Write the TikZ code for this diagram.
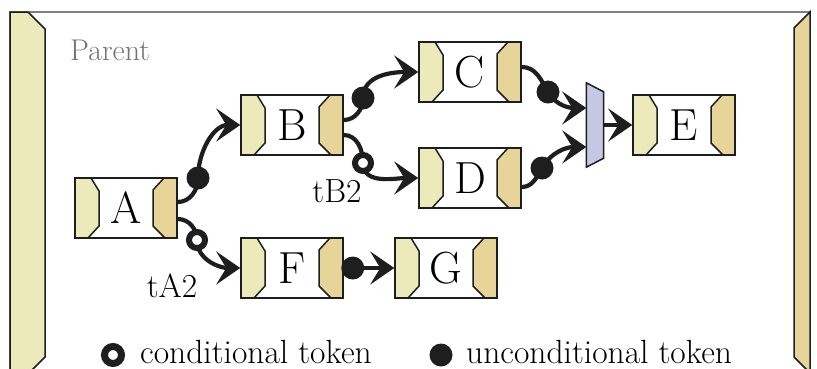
\documentclass[tikz,border=0pt]{standalone}
\usepackage{fontspec}
\usetikzlibrary{arrows.meta,calc}

\definecolor{portin}{RGB}{236,233,187}
\definecolor{portout}{RGB}{230,212,153}
\definecolor{mergefill}{RGB}{197,200,228}
\definecolor{ink}{RGB}{30,30,30}

\tikzset{
  panel/.style={draw=ink, line width=1.5pt},
  task/.style={draw=ink, line width=1.5pt, fill=white, inner sep=0pt,
    minimum width=102pt, minimum height=60pt,
    font=\fontsize{45}{45}\selectfont,
    path picture={
      \coordinate (nw) at (path picture bounding box.north west);
      \coordinate (ne) at (path picture bounding box.north east);
      \filldraw[panel, fill=portin] (nw) -- ++(16,0) -- ++(8,13) -- ++(0,35) -- ++(-11,12) -- ++(-13,0) -- cycle;
      \filldraw[panel, fill=portout] (ne) -- ++(-13,0) -- ++(-11,12) -- ++(0,36) -- ++(12,12) -- ++(12,0) -- cycle;
    }},
  merge/.style={minimum width=17pt, minimum height=84pt, inner sep=0pt},
  flow/.style={draw=ink, line width=4.2pt, -{Stealth[length=24pt,width=33pt,inset=10pt]}},
  utok/.style={circle, fill=ink, inner sep=0pt, minimum size=23pt},
  ctok/.style={circle, draw=ink, fill=white, line width=6pt, inner sep=0pt, minimum size=16pt},
  lbl/.style={inner sep=0pt, font=\fontsize{33.5}{33.5}\selectfont},
  parent/.style={inner sep=0pt, anchor=base west, text=black!55, font=\fontsize{30}{30}\selectfont},
}

\begin{document}
\begin{tikzpicture}[x=1pt, y=-1pt]
\useasboundingbox (0,0) rectangle (817,368);
\clip (0,0) rectangle (817,368);

% parent frame with its input and output port
\draw[gray, line width=1.5pt] (10,12) rectangle (810,390);
\filldraw[panel, fill=portin] (10,12) -- (28,12) -- (45,29) -- (45,357) -- (30,372) -- (10,372) -- cycle;
\filldraw[panel, fill=portout] (810,12) -- (810,373) -- (794,357) -- (794,28) -- cycle;
\node[parent] (title) at (70,60) {Parent};

% tasks
\node[task] (A) at (126,208) {A};
\node[task] (B) at (292,125) {B};
\node[task] (C) at (470,72) {C};
\node[task] (D) at (470,178) {D};
\node[task] (E) at (684,125) {E};
\node[task] (F) at (292,268) {F};
\node[task] (G) at (446,268) {G};

% merge
\node[merge] (M) at (595,125) {};
\filldraw[panel, fill=mergefill] (M.north west) -- ($(M.north east)+(0,9)$) -- ($(M.south east)+(0,-9)$) -- (M.south west) -- cycle;

% flows
\draw[flow] ($(A.east)+(0,-6)$) to[out=0,in=-90] (198,178) node[utok] (tAB) {} to[out=90,in=180] (B.west);
\draw[flow] ($(A.east)+(0,11)$) to[out=0,in=90] (197,240) node[ctok] (tAF) {} to[out=-90,in=180] (F.west);
\node[lbl] (lA2) at (172,286) {tA2};

\draw[flow] ($(B.east)+(0,-5)$) to[out=0,in=-90] (363,98) node[utok] (tBC) {} to[out=90,in=180] (C.west);
\draw[flow] ($(B.east)+(0,10)$) to[out=0,in=90] (363,163) node[ctok] (tBD) {} to[out=-90,in=180] (D.west);
\node[lbl] (lB2) at (337,191) {tB2};

\draw[flow] ($(C.east)+(0,-5)$) to[out=0,in=120] (548,92) node[utok] (tCM) {} to[out=-60,in=180] ($(M.west)+(0,-17)$);
\draw[flow] ($(D.east)+(0,9)$) to[out=0,in=-120] (542,168) node[utok] (tDM) {} to[out=60,in=180] ($(M.west)+(0,22)$);
\draw[flow] (M.east) -- (E.west);
\draw[flow] (F.east) -- ($(F.east)+(9,0)$) node[utok] (tFG) {} -- (G.west);

% key
\node[ctok, line width=7pt, minimum size=17pt] (kc) at (113,355) {};
\node[lbl, anchor=base west] (kct) at (140,363) {conditional token};
\node[utok] (ku) at (441,355) {};
\node[lbl, anchor=base west] (kut) at (466,363) {unconditional token};
\end{tikzpicture}
\end{document}
